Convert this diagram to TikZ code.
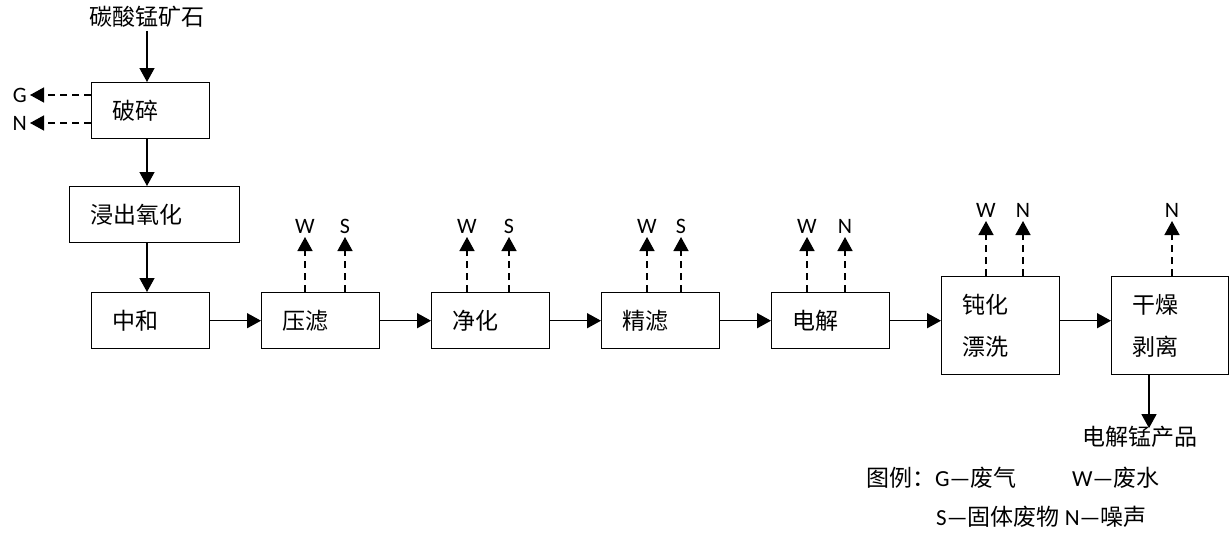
\documentclass[tikz,border=0pt]{standalone}
\usepackage{fontspec}
\newfontfamily\cjk{Noto Sans CJK SC}
\newfontfamily\lat{Carlito}
\usetikzlibrary{arrows.meta}
\tikzset{
  box/.style={draw,line width=1.4pt,anchor=north west,minimum height=56pt,
    inner xsep=21pt,inner ysep=0pt,align=left,text width=76pt,
    font=\cjk\fontsize{23}{42}\selectfont},
  txt/.style={inner sep=0pt,font=\cjk\fontsize{23}{26}\selectfont},
  lab/.style={inner sep=3pt,font=\lat\fontsize{22}{24}\selectfont},
  flow/.style={line width=1.4pt,-{Triangle[length=14pt,width=15pt]}},
  dsh/.style={flow,dash pattern=on 7pt off 5pt}
}
\begin{document}
\begin{tikzpicture}[x=1pt,y=-1pt]
\useasboundingbox (0,0) rectangle (1229,533);
% boxes
\node[box] (b1) at (91,82) {破碎};
\node[box,text width=128pt] (b2) at (69,186) {浸出氧化};
\node[box] (b3) at (91,292) {中和};
\node[box] (b4) at (261,292) {压滤};
\node[box] (b5) at (431,292) {净化};
\node[box] (b6) at (601,292) {精滤};
\node[box] (b7) at (771,292) {电解};
\node[box,minimum height=98pt] (b8) at (941,276) {钝化\\漂洗};
\node[box,minimum height=98pt,text width=75pt] (b9) at (1111,276) {干燥\\剥离};
% input / output text
\node[txt] (top) at (147,17) {碳酸锰矿石};
\node[txt] (prod) at (1140,437) {电解锰产品};
\coordinate (pd) at (1149,0);
% vertical main flow
\draw[flow] (top.south) ++(0,3) -- (b1.north -| top);
\draw[flow] (b1.south -| top) -- (b2.north -| top);
\draw[flow] (b2.south -| top) -- (b3.north -| top);
\draw[flow] (b9.south -| pd) -- ([yshift=-2pt]prod.north -| pd);
% horizontal main flow
\draw[flow] (b3.east) -- (b4.west);
\draw[flow] (b4.east) -- (b5.west);
\draw[flow] (b5.east) -- (b6.west);
\draw[flow] (b6.east) -- (b7.west);
\draw[flow] (b7.east) -- (b7.east -| b8.west);
\draw[flow] (b8.east |- b7.east) -- (b9.west |- b7.east);
% G / N from crushing
\node[lab,anchor=east] (g1) at (30,95) {G};
\node[lab,anchor=east] (n1) at (30,123) {N};
\draw[dsh] (b1.west |- g1) -- (g1.east);
\draw[dsh] (b1.west |- n1) -- (n1.east);
% emissions up
\node[lab,anchor=south] (w4) at (305,237) {W};
\node[lab,anchor=south] (s4) at (345,237) {S};
\node[lab,anchor=south] (w5) at (467,237) {W};
\node[lab,anchor=south] (s5) at (509,237) {S};
\node[lab,anchor=south] (w6) at (647,237) {W};
\node[lab,anchor=south] (s6) at (681,237) {S};
\node[lab,anchor=south] (w7) at (807,237) {W};
\node[lab,anchor=south] (n7) at (845,237) {N};
\node[lab,anchor=south] (w8) at (986,221) {W};
\node[lab,anchor=south] (n8) at (1023,221) {N};
\node[lab,anchor=south] (n9) at (1172,221) {N};
\foreach \l/\b in {w4/b4,s4/b4,w5/b5,s5/b5,w6/b6,s6/b6,w7/b7,n7/b7,w8/b8,n8/b8,n9/b9}
  \draw[dsh] (\b.north -| \l) -- (\l.south);
% legend
\node[txt,anchor=base west] (lg1) at (866,486) {图例：{\lat G—}废气};
\node[txt,anchor=base west] (lg2) at (1072,486) {{\lat W—}废水};
\node[txt,anchor=base west] (lg3) at (936,525) {{\lat S—}固体废物 {\lat N—}噪声};
\end{tikzpicture}
\end{document}
